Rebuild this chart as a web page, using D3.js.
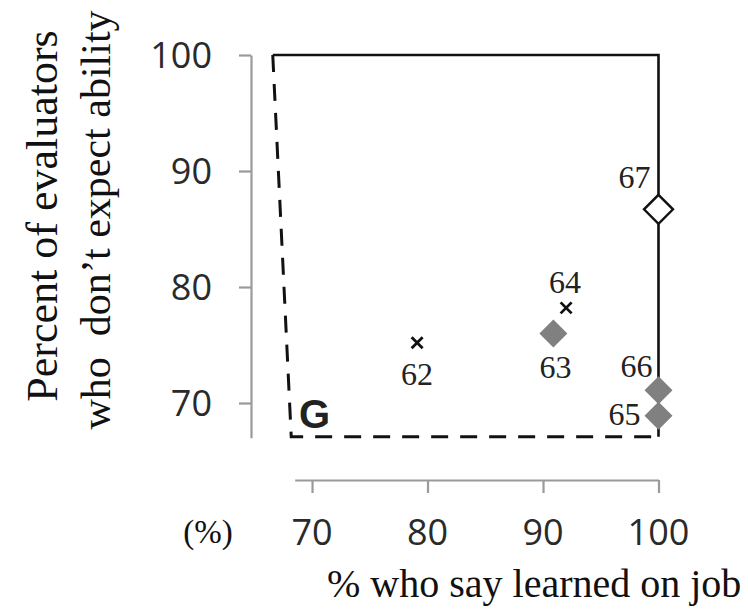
<!DOCTYPE html>
<html>
<head>
<meta charset="utf-8">
<script src="https://cdn.jsdelivr.net/npm/d3@7"></script>
<style>
  html, body { margin: 0; padding: 0; background: #fff; }
  svg { display: block; }
  text { white-space: pre; }
</style>
</head>
<body>
<svg id="chart" width="748" height="613"></svg>
<script>
// Survey items: share who say the skill is learned on the job (x)
// versus share of evaluators who don't expect the ability (y).
const itemLabels = ["62", "63", "64", "65", "66", "67"];
const learnedOnJob = [79.1, 90.9, 92.0, 100, 100, 100];
const dontExpectAbility = [75.2, 76.0, 78.2, 68.9, 71.1, 86.7];
const markerKinds = ["cross", "filled", "cross", "filled", "filled", "open"];

// Region G outline: solid upper/right edges, dashed left/bottom edges.
const solidEdgeX = [66.6, 100, 100];
const solidEdgeY = [100, 100, 67.1];
const dashedEdgeX = [66.6, 68.2, 100];
const dashedEdgeY = [100, 67.1, 67.1];

const xTicks = [70, 80, 90, 100];
const yTicks = [70, 80, 90, 100];

const svg = d3.select("#chart");

const x = d3.scaleLinear().domain([68.5, 100]).range([294.7, 658.5]);
const y = d3.scaleLinear().domain([67, 100]).range([437.8, 55]);

const sans = "'Open Sans', 'DejaVu Sans', sans-serif";
const serif = "'Liberation Serif', 'Times New Roman', serif";
const axisGrey = "#9a9a9a";

// Axes
const xAxis = svg.append("g")
  .attr("transform", `translate(0,${480})`)
  .call(d3.axisBottom(x).tickValues(xTicks).tickSize(13).tickSizeOuter(0).tickFormat(""));
const yAxis = svg.append("g")
  .attr("transform", `translate(${251},0)`)
  .call(d3.axisLeft(y).tickValues(yTicks).tickSize(12).tickSizeOuter(0).tickFormat(""));
[xAxis, yAxis].forEach(g => {
  g.select(".domain").attr("stroke", axisGrey).attr("stroke-width", 2.2);
  g.selectAll(".tick line").attr("stroke", axisGrey).attr("stroke-width", 2.2);
});

// Tick labels
svg.append("g").selectAll("text").data(xTicks).join("text")
  .attr("x", d => x(d)).attr("y", 545)
  .attr("text-anchor", "middle")
  .attr("font-family", sans).attr("font-size", 36).attr("fill", "#2a2a2a")
  .text(d => d);
svg.append("g").selectAll("text").data(yTicks).join("text")
  .attr("x", 212).attr("y", d => y(d) + 13)
  .attr("text-anchor", "end")
  .attr("font-family", sans).attr("font-size", 36).attr("fill", "#2a2a2a")
  .text(d => d);

svg.append("text")
  .attr("x", 208).attr("y", 543)
  .attr("text-anchor", "middle")
  .attr("font-family", serif).attr("font-size", 33).attr("fill", "#111")
  .text("(%)");

// Axis titles
svg.append("text")
  .attr("x", 327).attr("y", 597)
  .attr("font-family", serif).attr("font-size", 40).attr("fill", "#111")
  .text("% who say learned on job");

const yTitle = [
  { text: "Percent of evaluators", bx: 57, cy: 216, size: 44 },
  { text: "who  don\u2019t expect ability", bx: 110, cy: 220, size: 42 }
];
svg.append("g").selectAll("text").data(yTitle).join("text")
  .attr("transform", d => `translate(${d.bx},${d.cy}) rotate(-90)`)
  .attr("text-anchor", "middle")
  .attr("font-family", serif).attr("font-size", d => d.size).attr("fill", "#111")
  .text(d => d.text);

// Region outline
const edge = d3.line().x(d => x(d[0])).y(d => y(d[1]));
svg.append("path")
  .attr("d", edge(d3.zip(solidEdgeX, solidEdgeY)))
  .attr("fill", "none").attr("stroke", "#111").attr("stroke-width", 2.6);
svg.append("path")
  .attr("d", edge(d3.zip(dashedEdgeX, dashedEdgeY)))
  .attr("fill", "none").attr("stroke", "#111").attr("stroke-width", 3)
  .attr("stroke-dasharray", "17,12");

svg.append("text")
  .attr("x", 299).attr("y", 428)
  .attr("font-family", "'Liberation Sans', Arial, sans-serif")
  .attr("font-weight", "bold").attr("font-size", 40).attr("fill", "#222")
  .text("G");

// Points
const points = itemLabels.map((label, i) => ({
  label, xv: learnedOnJob[i], yv: dontExpectAbility[i], kind: markerKinds[i]
}));

const diamond = r => `M0,${-r}L${r},0L0,${r}L${-r},0Z`;

const marks = svg.append("g").selectAll("g").data(points).join("g")
  .attr("transform", d => `translate(${x(d.xv)},${y(d.yv)})`);

marks.filter(d => d.kind === "filled").append("path")
  .attr("d", diamond(14)).attr("fill", "#808080");
marks.filter(d => d.kind === "open").append("path")
  .attr("d", diamond(14.5)).attr("fill", "#fff")
  .attr("stroke", "#111").attr("stroke-width", 2.4);
marks.filter(d => d.kind === "cross").append("path")
  .attr("d", "M-5.5,-5.5L5.5,5.5M-5.5,5.5L5.5,-5.5")
  .attr("stroke", "#111").attr("stroke-width", 2.8);

// Item number labels, placed beside each marker
const labelPlacement = {
  "62": { dx: 0, dy: 42, anchor: "middle" },
  "63": { dx: 2, dy: 45, anchor: "middle" },
  "64": { dx: -1, dy: -15, anchor: "middle" },
  "65": { dx: -18, dy: 9, anchor: "end" },
  "66": { dx: -6, dy: -13, anchor: "end" },
  "67": { dx: -8, dy: -21, anchor: "end" }
};
marks.append("text")
  .attr("x", d => labelPlacement[d.label].dx)
  .attr("y", d => labelPlacement[d.label].dy)
  .attr("text-anchor", d => labelPlacement[d.label].anchor)
  .attr("font-family", serif).attr("font-size", 32).attr("fill", "#222")
  .text(d => d.label);
</script>
</body>
</html>
